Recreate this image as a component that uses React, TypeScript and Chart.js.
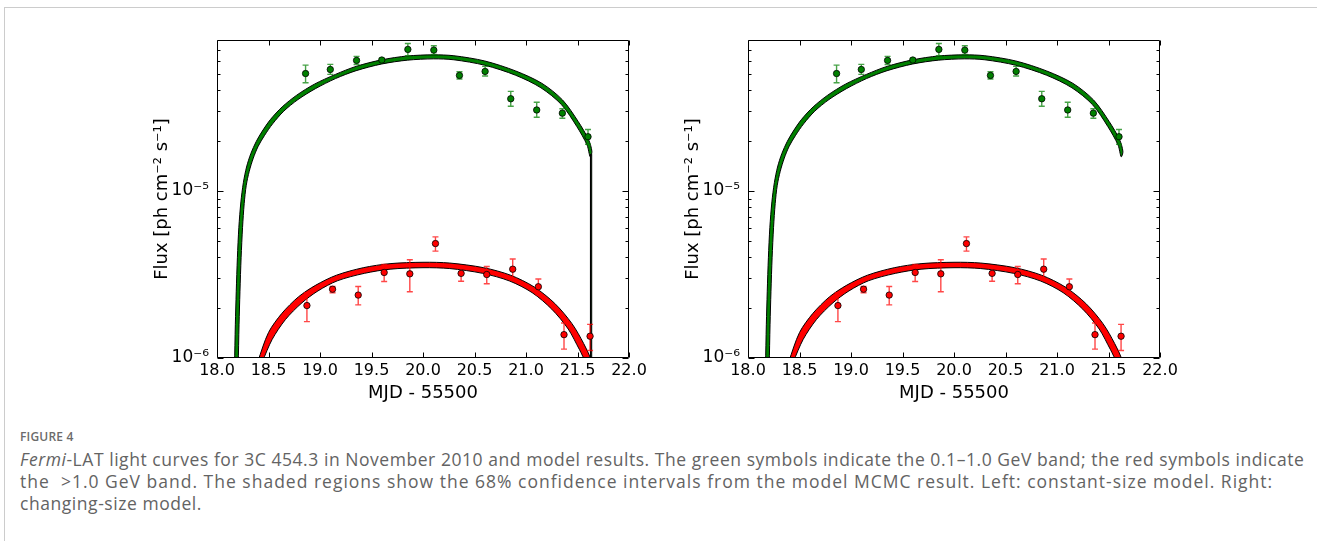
import React, { useEffect, useRef } from 'react';
import { Chart, registerables } from 'chart.js';

Chart.register(...registerables);

const FONT = 'DejaVu Sans';

// ---- axes ----
const X_TICKS = [18.0, 18.5, 19.0, 19.5, 20.0, 20.5, 21.0, 21.5, 22.0];
const Y_TICKS = [1e-6, 1e-5];
const Y_TICK_LABELS = ['10⁻⁶', '10⁻⁵'];
const Y_MINOR = [2e-6, 3e-6, 4e-6, 5e-6, 6e-6, 7e-6, 8e-6, 9e-6, 2e-5, 3e-5, 4e-5, 5e-5, 6e-5, 7e-5];
const X_MIN = 18;
const X_MAX = 22;
const Y_MIN = 1e-6;
const Y_MAX = 8e-5;

// ---- Fermi-LAT data: 0.1-1.0 GeV (green) ----
const GREEN_X = [18.86, 19.10, 19.355, 19.60, 19.853, 20.105, 20.354, 20.603, 20.852, 21.104, 21.353, 21.602];
const GREEN_Y = [5.04e-5, 5.33e-5, 6.04e-5, 6.07e-5, 7.03e-5, 6.96e-5, 4.91e-5, 5.19e-5, 3.56e-5, 3.05e-5, 2.92e-5, 2.11e-5];
const GREEN_HI = [5.66e-5, 5.72e-5, 6.38e-5, 6.2e-5, 7.63e-5, 7.39e-5, 5.17e-5, 5.56e-5, 3.94e-5, 3.39e-5, 3.10e-5, 2.33e-5];
const GREEN_LO = [4.44e-5, 4.98e-5, 5.71e-5, 5.95e-5, 6.44e-5, 6.56e-5, 4.67e-5, 4.87e-5, 3.21e-5, 2.76e-5, 2.72e-5, 1.90e-5];

// ---- Fermi-LAT data: >1.0 GeV (red) ----
const RED_X = [18.873, 19.122, 19.371, 19.623, 19.872, 20.121, 20.37, 20.619, 20.871, 21.12, 21.369, 21.622];
const RED_Y = [2.06e-6, 2.58e-6, 2.38e-6, 3.25e-6, 3.19e-6, 4.84e-6, 3.21e-6, 3.16e-6, 3.40e-6, 2.67e-6, 1.38e-6, 1.35e-6];
const RED_HI = [2.46e-6, 2.68e-6, 2.68e-6, 3.63e-6, 3.87e-6, 5.31e-6, 3.50e-6, 3.53e-6, 3.91e-6, 2.97e-6, 1.62e-6, 1.59e-6];
const RED_LO = [1.65e-6, 2.46e-6, 2.08e-6, 2.87e-6, 2.49e-6, 4.36e-6, 2.88e-6, 2.78e-6, 2.94e-6, 2.39e-6, 1.13e-6, 1.11e-6];

// ---- model 68% bands (upper / lower edges) ----
const GREEN_BAND_UP_X = [18.17, 18.178, 18.187, 18.198, 18.212, 18.232, 18.256, 18.287, 18.328, 18.38, 18.44, 18.52, 18.632, 18.774, 18.945, 19.15, 19.35, 19.6, 19.85, 20.1, 20.3, 20.6, 20.9, 21.155, 21.355, 21.507, 21.607, 21.64];
const GREEN_BAND_UP_Y = [0.9e-6, 1.58e-6, 2.51e-6, 3.98e-6, 6.03e-6, 8.6e-6, 1.12e-5, 1.39e-5, 1.67e-5, 1.97e-5, 2.28e-5, 2.68e-5, 3.18e-5, 3.74e-5, 4.35e-5, 4.98e-5, 5.56e-5, 6.09e-5, 6.42e-5, 6.52e-5, 6.44e-5, 5.99e-5, 5.22e-5, 4.40e-5, 3.50e-5, 2.60e-5, 2.03e-5, 1.72e-5];
const GREEN_BAND_LO_X = [18.206, 18.214, 18.223, 18.234, 18.248, 18.264, 18.284, 18.313, 18.352, 18.40, 18.46, 18.54, 18.648, 18.786, 18.955, 19.15, 19.35, 19.6, 19.85, 20.1, 20.3, 20.6, 20.9, 21.145, 21.345, 21.493, 21.593, 21.623];
const GREEN_BAND_LO_Y = [0.9e-6, 1.58e-6, 2.51e-6, 3.98e-6, 6.03e-6, 8.4e-6, 1.08e-5, 1.31e-5, 1.57e-5, 1.85e-5, 2.14e-5, 2.52e-5, 3.0e-5, 3.52e-5, 4.09e-5, 4.70e-5, 5.24e-5, 5.75e-5, 6.06e-5, 6.17e-5, 6.09e-5, 5.65e-5, 4.92e-5, 4.14e-5, 3.28e-5, 2.43e-5, 1.88e-5, 1.60e-5];

const RED_BAND_UP_X = [18.395, 18.50, 18.63, 18.79, 18.96, 19.16, 19.42, 19.68, 20.0, 20.26, 20.59, 20.85, 21.08, 21.28, 21.445, 21.56, 21.635];
const RED_BAND_UP_Y = [0.95e-6, 1.42e-6, 1.85e-6, 2.32e-6, 2.73e-6, 3.13e-6, 3.47e-6, 3.67e-6, 3.74e-6, 3.70e-6, 3.47e-6, 3.13e-6, 2.66e-6, 2.12e-6, 1.61e-6, 1.22e-6, 0.95e-6];
const RED_BAND_LO_X = [18.44, 18.535, 18.665, 18.825, 18.98, 19.17, 19.43, 19.68, 20.0, 20.26, 20.58, 20.84, 21.06, 21.25, 21.41, 21.52, 21.585];
const RED_BAND_LO_Y = [0.95e-6, 1.29e-6, 1.70e-6, 2.14e-6, 2.52e-6, 2.90e-6, 3.21e-6, 3.40e-6, 3.47e-6, 3.43e-6, 3.21e-6, 2.89e-6, 2.46e-6, 1.96e-6, 1.49e-6, 1.12e-6, 0.95e-6];

// constant-size model: sharp cut-off at the end of the green band
const DROP_X = [21.626, 21.626, 21.638, 21.638];
const DROP_Y = [1.66e-5, 0.9e-6, 0.9e-6, 1.66e-5];

const GREEN = '#008000';
const RED = '#ff0000';

const pts = (xs: number[], ys: number[]) => xs.map((x, i) => ({ x, y: ys[i] }));
const band = (ux: number[], uy: number[], lx: number[], ly: number[]) =>
  pts(ux, uy).concat(pts(lx, ly).reverse());

const errorBarPlugin = {
  id: 'errorBars',
  beforeDatasetDraw(chart: any, args: any) {
    const ds = chart.data.datasets[args.index];
    if (!ds.errHi) return;
    const { ctx } = chart;
    const xs = chart.scales.x;
    const ys = chart.scales.y;
    ctx.save();
    ctx.strokeStyle = ds.errColor;
    ctx.lineWidth = 1.4;
    ds.data.forEach((p: any, i: number) => {
      const px = xs.getPixelForValue(p.x);
      const yt = ys.getPixelForValue(ds.errHi[i]);
      const yb = ys.getPixelForValue(ds.errLo[i]);
      ctx.beginPath();
      ctx.moveTo(px, yt);
      ctx.lineTo(px, yb);
      ctx.moveTo(px - 3, yt);
      ctx.lineTo(px + 3, yt);
      ctx.moveTo(px - 3, yb);
      ctx.lineTo(px + 3, yb);
      ctx.stroke();
    });
    ctx.restore();
  },
};

const framePlugin = {
  id: 'frame',
  afterDatasetsDraw(chart: any) {
    const { ctx, chartArea: a } = chart;
    const xs = chart.scales.x;
    const ys = chart.scales.y;
    const L = Math.round(a.left) + 0.5;
    const R = Math.round(a.right) - 0.5;
    const T = Math.round(a.top) + 0.5;
    const B = Math.round(a.bottom) - 0.5;
    ctx.save();
    ctx.strokeStyle = '#000';
    ctx.lineWidth = 1;
    ctx.beginPath();
    ctx.rect(L, T, R - L, B - T);
    X_TICKS.forEach((v) => {
      const px = Math.round(xs.getPixelForValue(v)) + 0.5;
      ctx.moveTo(px, B);
      ctx.lineTo(px, B - 5);
      ctx.moveTo(px, T);
      ctx.lineTo(px, T + 5);
    });
    Y_TICKS.forEach((v) => {
      const py = Math.round(ys.getPixelForValue(v)) + 0.5;
      ctx.moveTo(L, py);
      ctx.lineTo(L + 6, py);
      ctx.moveTo(R, py);
      ctx.lineTo(R - 6, py);
    });
    Y_MINOR.forEach((v) => {
      const py = Math.round(ys.getPixelForValue(v)) + 0.5;
      ctx.moveTo(L, py);
      ctx.lineTo(L + 3, py);
      ctx.moveTo(R, py);
      ctx.lineTo(R - 3, py);
    });
    ctx.stroke();
    ctx.restore();
  },
};

function makeConfig(withDrop: boolean): any {
  const datasets: any[] = [
    {
      type: 'scatter',
      label: '0.1–1.0 GeV',
      data: pts(GREEN_X, GREEN_Y),
      errHi: GREEN_HI,
      errLo: GREEN_LO,
      errColor: 'rgba(0,128,0,0.72)',
      pointRadius: 3.2,
      pointBackgroundColor: GREEN,
      pointBorderColor: '#000',
      pointBorderWidth: 0.8,
      order: 0,
    },
    {
      type: 'scatter',
      label: '>1.0 GeV',
      data: pts(RED_X, RED_Y),
      errHi: RED_HI,
      errLo: RED_LO,
      errColor: 'rgba(255,0,0,0.72)',
      pointRadius: 3.2,
      pointBackgroundColor: RED,
      pointBorderColor: '#000',
      pointBorderWidth: 0.8,
      order: 0,
    },
    {
      type: 'line',
      label: 'model 0.1–1.0 GeV',
      data: band(GREEN_BAND_UP_X, GREEN_BAND_UP_Y, GREEN_BAND_LO_X, GREEN_BAND_LO_Y),
      fill: 'shape',
      backgroundColor: GREEN,
      borderColor: '#000',
      borderWidth: 1,
      pointRadius: 0,
      tension: 0.3,
      order: 2,
    },
    {
      type: 'line',
      label: 'model >1.0 GeV',
      data: band(RED_BAND_UP_X, RED_BAND_UP_Y, RED_BAND_LO_X, RED_BAND_LO_Y),
      fill: 'shape',
      backgroundColor: RED,
      borderColor: '#000',
      borderWidth: 1,
      pointRadius: 0,
      tension: 0.3,
      order: 2,
    },
  ];
  if (withDrop) {
    datasets.push({
      type: 'line',
      label: 'cut-off',
      data: pts(DROP_X, DROP_Y),
      fill: 'shape',
      backgroundColor: '#1f5f1f',
      borderColor: '#000',
      borderWidth: 1,
      pointRadius: 0,
      tension: 0,
      order: 1,
    });
  }
  return {
    type: 'scatter',
    data: { datasets },
    plugins: [errorBarPlugin, framePlugin],
    options: {
      animation: false,
      responsive: false,
      devicePixelRatio: 1,
      layout: { padding: { top: 10, right: 31, bottom: 0, left: 0 } },
      plugins: { legend: { display: false }, tooltip: { enabled: false } },
      scales: {
        x: {
          type: 'linear',
          min: X_MIN,
          max: X_MAX,
          grid: { display: false, drawTicks: false },
          border: { display: false },
          afterBuildTicks: (s: any) => {
            s.ticks = X_TICKS.map((v) => ({ value: v }));
          },
          afterFit: (s: any) => {
            s.height = 52;
            s.paddingLeft = 0;
            s.paddingRight = 0;
          },
          ticks: {
            callback: (v: any) => Number(v).toFixed(1),
            font: { family: FONT, size: 16 },
            color: '#000',
            padding: 3,
            maxRotation: 0,
            autoSkip: false,
          },
          title: {
            display: true,
            text: 'MJD - 55500',
            font: { family: FONT, size: 18 },
            color: '#000',
            padding: { top: 0, bottom: 6 },
          },
        },
        y: {
          type: 'logarithmic',
          min: Y_MIN,
          max: Y_MAX,
          grid: { display: false, drawTicks: false },
          border: { display: false },
          afterBuildTicks: (s: any) => {
            s.ticks = Y_TICKS.map((v) => ({ value: v }));
          },
          afterFit: (s: any) => {
            s.width = 67;
            s.paddingTop = 0;
            s.paddingBottom = 0;
          },
          ticks: {
            callback: (_v: any, i: number) => Y_TICK_LABELS[i],
            font: { family: FONT, size: 17 },
            color: '#000',
            padding: 8,
            autoSkip: false,
          },
          title: {
            display: true,
            text: 'Flux [ph cm⁻² s⁻¹]',
            font: { family: FONT, size: 18 },
            color: '#000',
            padding: { top: 2, bottom: 0 },
          },
        },
      },
    },
  };
}

function FluxChart({ left, top, withDrop }: { left: number; top: number; withDrop: boolean }) {
  const ref = useRef<HTMLCanvasElement>(null);
  useEffect(() => {
    const chart = new Chart(ref.current as HTMLCanvasElement, makeConfig(withDrop));
    return () => chart.destroy();
  }, [withDrop]);
  return (
    <canvas
      ref={ref}
      width={510}
      height={380}
      style={{ position: 'absolute', left, top, width: 510, height: 380 }}
    />
  );
}

const CAPTION_FONT = '"Open Sans", "Noto Sans", sans-serif';

export default function App() {
  return (
    <div
      style={{
        position: 'absolute',
        left: 0,
        top: 0,
        width: 1317,
        height: 541,
        background: '#fff',
        overflow: 'hidden',
      }}
    >
      <div
        style={{
          position: 'absolute',
          left: 4,
          top: 7,
          width: 1320,
          height: 540,
          borderTop: '1px solid #cccccc',
          borderLeft: '1px solid #cccccc',
        }}
      />
      <FluxChart left={150} top={30} withDrop={true} />
      <FluxChart left={681} top={30} withDrop={false} />
      <div
        style={{
          position: 'absolute',
          left: 20,
          top: 429,
          fontFamily: CAPTION_FONT,
          fontSize: 12,
          fontWeight: 600,
          color: '#6b6b6b',
          letterSpacing: 0.2,
          lineHeight: '16px',
        }}
      >
        FIGURE 4
      </div>
      <div
        style={{
          position: 'absolute',
          left: 20,
          top: 448,
          fontFamily: CAPTION_FONT,
          fontSize: 17.5,
          color: '#636363',
          lineHeight: '22px',
          letterSpacing: 0.55,
          whiteSpace: 'nowrap',
        }}
      >
        <div>
          <i>Fermi</i>-LAT light curves for 3C 454.3 in November 2010 and model results. The green symbols indicate the 0.1–1.0 GeV band; the red symbols indicate
        </div>
        <div style={{ letterSpacing: 1.0 }}>
          the &nbsp;&gt;1.0 GeV band. The shaded regions show the 68% confidence intervals from the model MCMC result. Left: constant-size model. Right:
        </div>
        <div>changing-size model.</div>
      </div>
    </div>
  );
}
